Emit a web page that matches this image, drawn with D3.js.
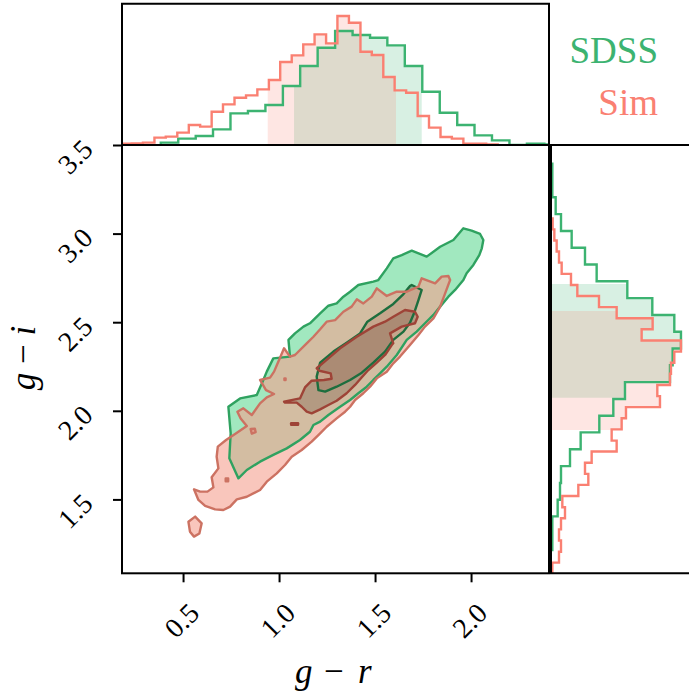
<!DOCTYPE html>
<html>
<head>
<meta charset="utf-8">
<script src="https://cdn.jsdelivr.net/npm/d3@7"></script>
<style>
body { margin: 0; background: #fff; }
svg { display: block; }
</style>
</head>
<body>
<svg id="chart" width="689" height="693"></svg>
<script>
// ---- data ----
const seriesNames = ["SDSS", "Sim"]
const grTicks = [0.5, 1.0, 1.5, 2.0]
const giTicks = [1.5, 2.0, 2.5, 3.0, 3.5]

// marginal g-r histograms (bin edges + counts)
const sdssGrEdges = [0.384,0.475,0.566,0.656,0.747,0.838,0.929,1.020,1.110,1.201,1.292,1.383,1.474,1.564,1.655,1.746,1.837,1.928,2.018,2.109,2.200,2.291,2.382,2.472]
const sdssGrCounts = [7,19,27,47,95,102,120,177,237,292,342,330,322,299,237,160,97,60,29,14,0,4,2]
const simGrEdges = [0.172,0.232,0.291,0.351,0.410,0.470,0.530,0.589,0.649,0.708,0.768,0.828,0.887,0.947,1.006,1.066,1.126,1.185,1.245,1.304,1.364,1.424,1.483,1.543,1.602,1.662,1.722,1.781,1.841,1.900,1.960,2.020,2.079,2.139]
const simGrCounts = [4,5,7,22,25,37,60,55,100,122,142,149,167,195,249,269,302,332,305,387,367,280,270,204,164,157,87,52,24,19,4,4,2]

// marginal g-i histograms
const sdssGiEdges = [1.214,1.309,1.404,1.498,1.593,1.688,1.783,1.878,1.972,2.067,2.162,2.257,2.352,2.446,2.541,2.636,2.731,2.826,2.920,3.015,3.110,3.205,3.300,3.394]
const sdssGiCounts = [4,4,20,27,30,57,89,145,187,222,357,365,390,370,304,229,137,102,62,30,14,4,4]
const simGiEdges = [1.080,1.143,1.205,1.268,1.331,1.394,1.456,1.519,1.582,1.644,1.707,1.770,1.832,1.895,1.958,2.021,2.083,2.146,2.209,2.271,2.334,2.397,2.460,2.522,2.585,2.648,2.710,2.773,2.836,2.899,2.961,3.024,3.086]
const simGiCounts = [4,24,30,24,30,42,34,82,112,102,122,197,182,212,225,327,319,357,360,370,390,272,305,197,144,79,60,32,24,17,10,5]

// shaded central intervals [lo, hi]
const sdssGrBand = [1.078, 1.743]
const simGrBand = [0.941, 1.609]
const sdssGiBand = [2.074, 2.716]
const simGiBand = [1.892, 2.563]

// 2D density contours, [g-r, g-i]
const sdssOuter = [[1.960,3.030],[2.003,3.017],[2.047,2.998],[2.064,2.964],[2.056,2.917],[2.043,2.879],[2.012,2.823],[1.977,2.776],[1.960,2.738],[1.917,2.682],[1.882,2.644],[1.839,2.588],[1.804,2.541],[1.760,2.494],[1.717,2.447],[1.665,2.400],[1.613,2.315],[1.561,2.249],[1.526,2.211],[1.491,2.174],[1.457,2.136],[1.413,2.099],[1.370,2.061],[1.318,2.023],[1.257,1.976],[1.214,1.939],[1.179,1.920],[1.161,1.882],[1.109,1.835],[1.040,1.788],[0.970,1.751],[0.901,1.713],[0.832,1.666],[0.788,1.619],[0.741,1.732],[0.748,1.873],[0.736,2.023],[0.797,2.070],[0.884,2.089],[0.918,2.174],[0.936,2.221],[0.970,2.296],[1.057,2.306],[1.049,2.400],[1.083,2.437],[1.127,2.475],[1.161,2.494],[1.214,2.550],[1.257,2.593],[1.300,2.606],[1.335,2.644],[1.370,2.672],[1.413,2.710],[1.491,2.729],[1.517,2.738],[1.561,2.804],[1.595,2.860],[1.639,2.879],[1.691,2.904],[1.769,2.870],[1.839,2.926],[1.908,2.964]]
const sdssInner = [[1.691,2.710],[1.743,2.682],[1.726,2.625],[1.703,2.550],[1.682,2.497],[1.648,2.447],[1.595,2.400],[1.552,2.334],[1.491,2.272],[1.431,2.215],[1.370,2.174],[1.300,2.136],[1.240,2.108],[1.205,2.117],[1.196,2.193],[1.214,2.272],[1.283,2.334],[1.352,2.384],[1.422,2.437],[1.460,2.503],[1.526,2.550],[1.595,2.603],[1.648,2.659],[1.682,2.704]]
const simOuter = [[1.882,2.761],[1.891,2.738],[1.865,2.663],[1.839,2.588],[1.804,2.522],[1.760,2.475],[1.726,2.428],[1.682,2.371],[1.630,2.306],[1.595,2.268],[1.561,2.221],[1.509,2.183],[1.474,2.136],[1.439,2.099],[1.396,2.061],[1.370,2.023],[1.344,1.995],[1.300,1.957],[1.248,1.910],[1.214,1.873],[1.170,1.826],[1.118,1.779],[1.066,1.741],[1.031,1.694],[0.988,1.647],[0.936,1.600],[0.901,1.553],[0.866,1.534],[0.832,1.515],[0.780,1.500],[0.745,1.459],[0.710,1.440],[0.667,1.444],[0.615,1.463],[0.580,1.497],[0.557,1.557],[0.589,1.544],[0.627,1.544],[0.658,1.568],[0.649,1.625],[0.684,1.675],[0.675,1.741],[0.681,1.798],[0.724,1.835],[0.771,1.869],[0.832,1.914],[0.800,1.957],[0.783,1.995],[0.814,2.014],[0.858,1.976],[0.901,2.042],[0.936,2.076],[0.974,2.095],[0.932,2.117],[0.901,2.174],[0.953,2.187],[0.974,2.221],[0.991,2.264],[1.009,2.309],[1.026,2.353],[1.057,2.306],[1.083,2.315],[1.144,2.381],[1.179,2.418],[1.214,2.460],[1.248,2.503],[1.292,2.512],[1.335,2.559],[1.378,2.588],[1.405,2.629],[1.439,2.606],[1.483,2.644],[1.509,2.691],[1.561,2.648],[1.613,2.672],[1.665,2.672],[1.726,2.701],[1.743,2.748],[1.813,2.719],[1.847,2.757]]
const simOuterIslands = [
    [[0.528,1.374],[0.563,1.403],[0.597,1.365],[0.585,1.308],[0.557,1.290],[0.536,1.318]],
    [[0.852,1.897],[0.874,1.899],[0.878,1.880],[0.858,1.871]],
    [[0.722,1.618],[0.735,1.618],[0.735,1.602],[0.722,1.602]],
    [[1.028,2.182],[1.034,2.182],[1.034,2.174],[1.028,2.174]]
]
const simInner = [[1.026,2.052],[1.109,2.070],[1.135,2.132],[1.170,2.170],[1.234,2.174],[1.274,2.181],[1.269,2.211],[1.210,2.226],[1.196,2.240],[1.248,2.287],[1.318,2.353],[1.405,2.418],[1.491,2.475],[1.552,2.503],[1.595,2.531],[1.656,2.569],[1.708,2.559],[1.722,2.531],[1.708,2.494],[1.639,2.475],[1.578,2.437],[1.595,2.381],[1.587,2.371],[1.552,2.315],[1.509,2.272],[1.465,2.230],[1.431,2.189],[1.396,2.146],[1.352,2.099],[1.300,2.057],[1.257,2.033],[1.214,2.008],[1.170,1.986],[1.144,1.995],[1.118,2.023],[1.092,2.046],[1.031,2.046]]
const simInnerIslands = [
    [[1.063,1.930],[1.099,1.930],[1.099,1.921],[1.063,1.921]]
]

// ---- layout ----
const plotL = 122, plotR = 549, plotT = 145, plotB = 573.3
const font = "'Liberation Serif', 'Times New Roman', serif"
const green = "#3cb371"
const salmon = "#fa8072"

const svg = d3.select("#chart")

const x = d3.scaleLinear().domain([0.182, 2.406]).range([plotL, plotR])
const y = d3.scaleLinear().domain([1.083, 3.5]).range([plotB, plotT])
const topY = d3.scaleLinear().domain([0, 400]).range([plotT, plotT - 133.3])
const rightX = d3.scaleLinear().domain([0, 400]).range([551, 684.3])

const defs = svg.append("defs")
defs.append("clipPath").attr("id", "clipMain")
    .append("rect").attr("x", plotL).attr("y", plotT).attr("width", plotR - plotL).attr("height", plotB - plotT)
defs.append("clipPath").attr("id", "clipTop")
    .append("rect").attr("x", plotL).attr("y", 3).attr("width", plotR - plotL).attr("height", plotT - 3)
defs.append("clipPath").attr("id", "clipRight")
    .append("rect").attr("x", 551).attr("y", plotT).attr("width", 689 - 551).attr("height", plotB - plotT)

// step outline of a histogram
function stepPoints(edges, counts){
    const pts = [[edges[0], 0]]
    counts.forEach((c, i) => {
        pts.push([edges[i], c])
        pts.push([edges[i + 1], c])
    })
    pts.push([edges[edges.length - 1], 0])
    return pts
}

// area under the histogram between lo and hi
function bandPoints(edges, counts, band){
    const [lo, hi] = band
    const pts = [[lo, 0]]
    counts.forEach((c, i) => {
        const a = Math.max(edges[i], lo)
        const b = Math.min(edges[i + 1], hi)
        if(b > a){
            pts.push([a, c])
            pts.push([b, c])
        }
    })
    pts.push([hi, 0])
    return pts
}

// ---- top marginal ----
const topLine = d3.line().x(d => x(d[0])).y(d => topY(d[1]))
const gTop = svg.append("g").attr("clip-path", "url(#clipTop)")

gTop.append("path").attr("d", topLine(bandPoints(sdssGrEdges, sdssGrCounts, sdssGrBand)) + "Z")
    .attr("fill", green).attr("fill-opacity", 0.2)
gTop.append("path").attr("d", topLine(bandPoints(simGrEdges, simGrCounts, simGrBand)) + "Z")
    .attr("fill", salmon).attr("fill-opacity", 0.2)
gTop.append("path").attr("d", topLine(stepPoints(sdssGrEdges, sdssGrCounts)))
    .attr("fill", "none").attr("stroke", green).attr("stroke-width", 2.4)
gTop.append("path").attr("d", topLine(stepPoints(simGrEdges, simGrCounts)))
    .attr("fill", "none").attr("stroke", salmon).attr("stroke-width", 2.4)

// ---- right marginal ----
const rightLine = d3.line().x(d => rightX(d[1])).y(d => y(d[0]))
const gRight = svg.append("g").attr("clip-path", "url(#clipRight)")

gRight.append("path").attr("d", rightLine(bandPoints(sdssGiEdges, sdssGiCounts, sdssGiBand)) + "Z")
    .attr("fill", green).attr("fill-opacity", 0.2)
gRight.append("path").attr("d", rightLine(bandPoints(simGiEdges, simGiCounts, simGiBand)) + "Z")
    .attr("fill", salmon).attr("fill-opacity", 0.2)
gRight.append("path").attr("d", rightLine(stepPoints(sdssGiEdges, sdssGiCounts)))
    .attr("fill", "none").attr("stroke", green).attr("stroke-width", 2.4)
gRight.append("path").attr("d", rightLine(stepPoints(simGiEdges, simGiCounts)))
    .attr("fill", "none").attr("stroke", salmon).attr("stroke-width", 2.4)

// ---- joint contours ----
const shape = d3.line().x(d => x(d[0])).y(d => y(d[1])).curve(d3.curveLinearClosed)
const gMain = svg.append("g").attr("clip-path", "url(#clipMain)")

// fills
gMain.append("path").attr("d", shape(sdssOuter)).attr("fill", "rgb(46,204,113)").attr("fill-opacity", 0.45)
gMain.append("path").attr("d", shape(sdssInner)).attr("fill", "rgb(90,105,75)").attr("fill-opacity", 0.45)
gMain.append("path").attr("d", shape(simOuter)).attr("fill", "rgb(245,160,144)").attr("fill-opacity", 0.6)
simOuterIslands.forEach(p => {
    gMain.append("path").attr("d", shape(p)).attr("fill", "rgb(245,160,144)").attr("fill-opacity", 0.6)
})
gMain.append("path").attr("d", shape(simInner)).attr("fill", "rgb(120,88,72)").attr("fill-opacity", 0.35)

// outlines
const outline = (pts, color) => gMain.append("path").attr("d", shape(pts))
    .attr("fill", "none").attr("stroke", color).attr("stroke-width", 2.4).attr("stroke-linejoin", "round")

outline(sdssOuter, "#2fa260")
outline(sdssInner, "#1d6e3e")
outline(simOuter, "#cc7262")
simOuterIslands.forEach(p => outline(p, "#cc7262"))
outline(simInner, "#9e4337")
simInnerIslands.forEach(p => outline(p, "#9e4337").attr("fill", "#9e4337"))

// ---- axes ----
const axisX = d3.axisBottom(x).tickValues(grTicks).tickSize(9).tickSizeOuter(0).tickFormat(d3.format(".1f"))
const axisY = d3.axisLeft(y).tickValues(giTicks).tickSize(9).tickSizeOuter(0).tickFormat(d3.format(".1f"))

const gx = svg.append("g").attr("transform", `translate(0, ${plotB})`).call(axisX)
const gy = svg.append("g").attr("transform", `translate(${plotL}, 0)`).call(axisY)

;[gx, gy].forEach(g => {
    g.select(".domain").remove()
    g.selectAll(".tick line").attr("stroke", "#000").attr("stroke-width", 2)
    g.selectAll(".tick text")
        .attr("x", 0).attr("y", 0).attr("dy", "0.35em")
        .attr("text-anchor", "middle")
        .attr("fill", "#000")
        .style("font-family", font)
        .style("font-size", "28px")
})
gx.selectAll(".tick text").attr("transform", "translate(-2, 47) rotate(-45)")
gy.selectAll(".tick text").attr("transform", "translate(-47, 11) rotate(-45)")

// frames
const frame = svg.append("g").attr("fill", "none").attr("stroke", "#000").attr("stroke-width", 2)
frame.append("rect").attr("x", plotL).attr("y", plotT).attr("width", plotR - plotL).attr("height", plotB - plotT)
frame.append("path").attr("d", `M${plotL},${plotT}V3.7H${plotR}V${plotT}`)
frame.append("path").attr("d", `M689,${plotT}H551V${plotB}H689`)

// axis labels
const xlab = svg.append("text").attr("y", 683)
    .style("font-family", font).style("font-size", "35px").attr("fill", "#000")
xlab.append("tspan").attr("x", 295).style("font-style", "italic").text("g")
xlab.append("tspan").attr("x", 324).text("\u2212")
xlab.append("tspan").attr("x", 358).style("font-style", "italic").text("r")

const ylab = svg.append("text").attr("transform", "translate(35, 358) rotate(-90)")
    .attr("text-anchor", "middle")
    .style("font-family", font).style("font-size", "35px").attr("fill", "#000")
ylab.append("tspan").style("font-style", "italic").text("g")
ylab.append("tspan").text(" \u2212 ")
ylab.append("tspan").style("font-style", "italic").text("i")

// legend
svg.selectAll(".legend")
    .data(seriesNames)
    .enter()
    .append("text")
    .attr("class", "legend")
    .attr("x", 658)
    .attr("y", (d, i) => 63 + i * 52)
    .attr("text-anchor", "end")
    .attr("fill", (d, i) => i === 0 ? green : salmon)
    .style("font-family", font)
    .style("font-size", "37px")
    .text(d => d)
</script>
</body>
</html>
